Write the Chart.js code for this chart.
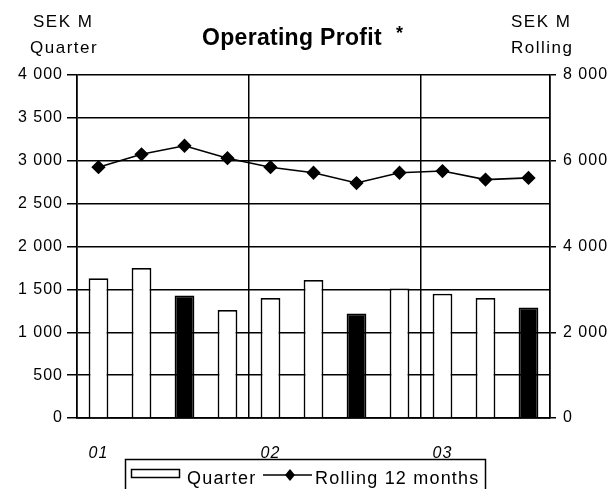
<!DOCTYPE html>
<html>
<head>
<meta charset="utf-8">
<script src="https://cdn.jsdelivr.net/npm/chart.js@4/dist/chart.umd.min.js"></script>
<style>
  html, body { margin: 0; padding: 0; background: #fff; }
  canvas { display: block; }
</style>
</head>
<body>
<canvas id="grafico" width="614" height="489"></canvas>
<script>
// Operating Profit: barras por trimestre (eje izq.) y acumulado 12 meses (eje der.)
var trimestres = ['01', '', '', '', '02', '', '', '', '03', '', ''];
var valoresTrimestre = [1630, 1750, 1430, 1260, 1400, 1610, 1220, 1510, 1450, 1400, 1290];
var valoresRolling = [5850, 6150, 6350, 6060, 5850, 5720, 5480, 5720, 5760, 5560, 5600];
var barrasOscuras = [2, 6, 10];

var FUENTE = '"Liberation Sans", Arial, sans-serif';
var fmtMiles = function (v) {
  if (v < 1000) return String(v);
  return Math.floor(v / 1000) + ' ' + String(v % 1000).padStart(3, '0');
};

// Textos fuera del área: títulos de ejes, título y leyenda
var textos = {
  id: 'textos',
  beforeDraw: function (chart) { chart.ctx.letterSpacing = '1px'; },
  afterDraw: function (chart) {
    var c = chart.ctx;
    c.save();
    c.fillStyle = '#000';
    c.strokeStyle = '#000';
    c.textBaseline = 'middle';

    c.letterSpacing = '1.5px';
    c.font = '17px ' + FUENTE;
    c.textAlign = 'left';
    c.fillText('SEK M', 33, 22);
    c.fillText('Quarter', 30, 48);
    c.fillText('SEK M', 511, 22);
    c.fillText('Rolling', 511, 48);

    c.letterSpacing = '0.3px';
    c.textBaseline = 'alphabetic';
    c.font = 'bold 23px ' + FUENTE;
    c.fillText('Operating Profit', 202, 45);
    c.font = 'bold 18px ' + FUENTE;
    c.fillText('*', 396, 39);

    // Leyenda
    c.lineWidth = 1.5;
    c.strokeRect(125.5, 459.5, 360, 40);
    c.fillStyle = '#fff';
    c.fillRect(131, 469, 49, 8);
    c.strokeRect(131.5, 469.5, 48, 8);
    c.beginPath();
    c.moveTo(263, 475);
    c.lineTo(312, 475);
    c.stroke();
    c.fillStyle = '#000';
    c.beginPath();
    c.moveTo(290, 469); c.lineTo(295, 475); c.lineTo(290, 481); c.lineTo(285, 475);
    c.closePath();
    c.fill();
    c.letterSpacing = '1.2px';
    c.font = '18px ' + FUENTE;
    c.textBaseline = 'middle';
    c.fillText('Quarter', 187, 479);
    c.fillText('Rolling 12 months', 315, 479);
    c.restore();
  }
};

new Chart(document.getElementById('grafico').getContext('2d'), {
  data: {
    labels: trimestres,
    datasets: [
      {
        type: 'line', label: 'Rolling 12 months', data: valoresRolling, yAxisID: 'y1', order: 0,
        borderColor: '#000', borderWidth: 1.6, tension: 0,
        pointStyle: 'rectRot', pointRadius: 6, pointBackgroundColor: '#000', pointBorderColor: '#000'
      },
      {
        type: 'bar', label: 'Quarter', data: valoresTrimestre, yAxisID: 'y', order: 1,
        backgroundColor: valoresTrimestre.map(function (v, i) { return barrasOscuras.indexOf(i) >= 0 ? '#000' : '#fff'; }),
        borderColor: '#000', borderWidth: 1.8,
        barPercentage: 0.46, categoryPercentage: 1
      }
    ]
  },
  options: {
    responsive: false,
    animation: false,
    layout: { padding: { top: 75, left: 0, right: 0, bottom: 0 } },
    plugins: { legend: { display: false }, title: { display: false }, tooltip: { enabled: false } },
    scales: {
      x: {
        afterFit: function (s) { s.height = 71; },
        grid: {
          offset: true, drawTicks: false, lineWidth: 1.5,
          color: function (ctx) { return (ctx.index === 4 || ctx.index === 8) ? '#000' : 'rgba(0,0,0,0)'; }
        },
        border: { display: true, color: '#000', width: 1.8 },
        ticks: { color: '#000', padding: 26, maxRotation: 0, autoSkip: false, font: { family: FUENTE, size: 16, style: 'italic' } }
      },
      y: {
        position: 'left', min: 0, max: 4000,
        afterFit: function (s) { s.width = 77; },
        grid: { color: '#000', lineWidth: 1.5, tickLength: 10, tickColor: '#000' },
        border: { display: true, color: '#000', width: 1.8 },
        ticks: { stepSize: 500, color: '#000', padding: 4, font: { family: FUENTE, size: 16 }, callback: fmtMiles }
      },
      y1: {
        position: 'right', min: 0, max: 8000,
        afterFit: function (s) { s.width = 64; },
        grid: { drawOnChartArea: false, tickLength: 6, tickColor: '#000', lineWidth: 1.5 },
        border: { display: true, color: '#000', width: 1.8 },
        ticks: { stepSize: 2000, color: '#000', padding: 7, font: { family: FUENTE, size: 16 }, callback: fmtMiles }
      }
    }
  },
  plugins: [textos]
});
</script>
</body>
</html>
